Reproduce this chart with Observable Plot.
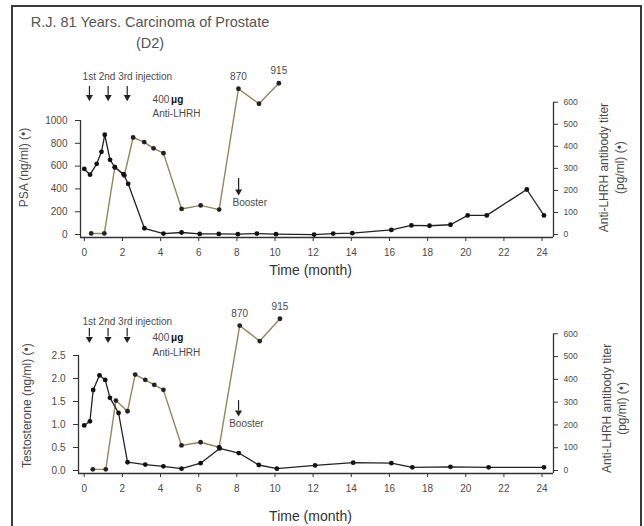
<!DOCTYPE html>
<html>
<head>
<meta charset="utf-8">
<script src="https://cdn.jsdelivr.net/npm/d3@7"></script>
<script src="https://cdn.jsdelivr.net/npm/@observablehq/plot@0.6"></script>
<style>
  html, body { margin: 0; padding: 0; background: #fff; overflow: hidden; }
  body { width: 644px; height: 526px; position: relative; font-family: "Liberation Sans", Arial, sans-serif; }
  #frame { position: absolute; left: 11px; top: 5px; width: 627px; height: 560px; border: 2px solid #3a3a3a; border-bottom: none; }
  #title { position: absolute; left: 18px; top: 12px; width: 264px; text-align: center; font-size: 14.5px; line-height: 21px; color: #555; }
  #p1 { position: absolute; left: 0; top: 55px; }
  #p2 { position: absolute; left: 0; top: 285px; }
  svg { overflow: visible; }
</style>
</head>
<body>
<div id="frame"></div>
<div id="title">R.J. 81 Years. Carcinoma of Prostate<br>(D2)</div>
<div id="p1"></div>
<div id="p2"></div>
<script>
// ---------- data ----------
const xTicks = [0, 2, 4, 6, 8, 10, 12, 14, 16, 18, 20, 22, 24];
const psaTicks = [0, 200, 400, 600, 800, 1000];
const testoTicks = [0, 0.5, 1.0, 1.5, 2.0, 2.5];
const titerTicks = [0, 100, 200, 300, 400, 500, 600];

const psaMonths = [0, 0.3, 0.65, 0.9, 1.07, 1.35, 1.6, 2.05, 2.3, 3.15, 4.15, 5.1, 6.05, 7.05, 8.05, 9.05, 10.05, 12.05, 13.05, 14.05, 16.1, 17.15, 18.1, 19.2, 20.1, 21.1, 23.2, 24.1];
const psaValues = [575, 525, 620, 725, 875, 655, 590, 530, 445, 55, 8, 18, 5, 5, 3, 8, 3, 0, 8, 12, 40, 80, 77, 86, 168, 168, 395, 168];

const titerTopMonths = [0.36, 1.05, 1.6, 2.1, 2.56, 3.14, 3.63, 4.15, 5.1, 6.1, 7.07, 8.08, 9.16, 10.2];
const titerTopValues = [5, 5, 305, 268, 440, 419, 391, 369, 116, 132, 113, 661, 593, 686];
const titerTopLabels = ["", "", "", "", "", "", "", "", "", "", "", "870", "", "915"];

const testoMonths = [0, 0.3, 0.47, 0.8, 1.1, 1.35, 1.8, 2.27, 3.2, 4.15, 5.1, 6.1, 7.1, 8.1, 9.15, 10.1, 12.1, 14.1, 16.1, 17.2, 19.2, 21.2, 24.1];
const testoValues = [0.98, 1.07, 1.75, 2.07, 1.97, 1.58, 1.25, 0.18, 0.13, 0.09, 0.04, 0.16, 0.48, 0.38, 0.12, 0.04, 0.11, 0.17, 0.16, 0.07, 0.08, 0.07, 0.07];

const titerBotMonths = [0.45, 1.13, 1.66, 2.27, 2.67, 3.2, 3.67, 4.15, 5.1, 6.1, 7.07, 8.15, 9.2, 10.26];
const titerBotValues = [5, 5, 307, 260, 421, 398, 376, 354, 110, 124, 102, 636, 568, 666];
const titerBotLabels = ["", "", "", "", "", "", "", "", "", "", "", "870", "", "915"];

const injectionMonths = [0.27, 1.25, 2.25];
const boosterMonth = [8.09];

// ---------- helpers ----------
const FONT = "Liberation Sans, Arial, sans-serif";
const INK = "#222";
const OLIVE = "#8c8a58";
const TXT = "#4a4a4a";

const psa = psaMonths.map((m, i) => ({month: m, value: psaValues[i]}));
const titerTop = titerTopMonths.map((m, i) => ({month: m, value: titerTopValues[i], label: titerTopLabels[i]}));
const testo = testoMonths.map((m, i) => ({month: m, value: testoValues[i]}));
const titerBot = titerBotMonths.map((m, i) => ({month: m, value: titerBotValues[i], label: titerBotLabels[i]}));

function panel(o) {
  const k = o.k;
  return Plot.plot({
    width: 644,
    height: o.height,
    marginLeft: o.marginLeft, marginRight: 91, marginTop: o.marginTop, marginBottom: o.marginBottom,
    x: {domain: o.xDomain, axis: null},
    y: {domain: o.yDomain, axis: null},
    style: {fontFamily: FONT, fontSize: "10px", color: TXT, background: "transparent", overflow: "visible"},
    marks: [
      // axes lines
      Plot.ruleY([o.yDomain[0]], {stroke: "#333", strokeWidth: 1.3}),
      Plot.ruleX([o.xDomain[0]], {y1: o.yDomain[0], y2: o.yDomain[1], stroke: "#333", strokeWidth: 1.3}),
      Plot.ruleX([o.xDomain[1]], {y1: o.yDomain[0], y2: 600 * k, stroke: "#333", strokeWidth: 1.3}),
      Plot.axisX({ticks: xTicks, label: null, tickSize: 4, tickPadding: 7, tickFormat: d => String(d), fontSize: 10, fill: TXT, stroke: "#333"}),
      Plot.axisY({anchor: "left", label: null, ticks: o.leftTicks, tickSize: 5, tickPadding: 8, tickFormat: o.leftFormat, fontSize: 10, fill: TXT, stroke: "#333"}),
      Plot.axisY({anchor: "right", label: null, ticks: titerTicks.map(t => t * k), tickSize: 4, tickPadding: 6, tickFormat: d => String(Math.round(d / k)), fontSize: 8.5, fill: TXT, stroke: "#333"}),
      // titer series
      Plot.line(o.titer, {x: "month", y: d => d.value * k, stroke: OLIVE, strokeWidth: 1.4}),
      Plot.dot(o.titer, {x: "month", y: d => d.value * k, r: 2.4, fill: "#222"}),
      Plot.text(o.titer.filter(d => d.label), {x: "month", y: d => d.value * k, text: "label", dy: -12, fontSize: 10, fill: TXT}),
      // main series
      Plot.line(o.main, {x: "month", y: "value", stroke: INK, strokeWidth: 1.3}),
      Plot.dot(o.main, {x: "month", y: "value", r: 2.4, fill: "#111"}),
      // injection annotations
      Plot.text(["1st 2nd 3rd injection"], {x: -0.09, y: o.ann.injText, text: d => d, textAnchor: "start", fontSize: 10, fill: TXT}),
      Plot.ruleX(injectionMonths, {y1: o.ann.arrTop, y2: o.ann.arrBot, stroke: "#222", strokeWidth: 1.2}),
      Plot.dot(injectionMonths, {x: d => d, y: o.ann.arrHead, symbol: "triangle", r: 2.6, rotate: 180, fill: "#222"}),
      Plot.text(["400"], {x: 3.58, y: o.ann.dose, text: d => d, textAnchor: "start", fontSize: 10, fill: TXT}),
      Plot.text(["μg"], {x: 4.55, y: o.ann.dose, text: d => d, textAnchor: "start", fontSize: 10, fontWeight: "bold", fill: "#111"}),
      Plot.text(["Anti-LHRH"], {x: 3.58, y: o.ann.anti, text: d => d, textAnchor: "start", fontSize: 10, fill: TXT}),
      // booster
      Plot.ruleX(boosterMonth, {y1: o.ann.bTop, y2: o.ann.bBot, stroke: "#222", strokeWidth: 1.2}),
      Plot.dot(boosterMonth, {x: d => d, y: o.ann.bHead, symbol: "triangle", r: 2.6, rotate: 180, fill: "#222"}),
      Plot.text(["Booster"], {x: o.ann.bTextX, y: o.ann.bText, text: d => d, textAnchor: "start", fontSize: 10, fill: TXT}),
      // axis titles
      Plot.text([o.leftLabel], {x: o.ann.leftLabX, y: o.ann.labY, text: d => d, rotate: -90, fontSize: 12, fill: TXT}),
      Plot.text(["Anti-LHRH antibody titer"], {x: o.ann.r1X, y: o.ann.rLabY, text: d => d, rotate: -90, fontSize: 12, fill: TXT}),
      Plot.text(["(pg/ml) (•)"], {x: o.ann.r2X, y: o.ann.rLabY, text: d => d, rotate: -90, fontSize: 12, fill: TXT}),
      Plot.text(["Time (month)"], {x: 11.86, y: o.ann.timeY, text: d => d, fontSize: 14, fill: "#333"})
    ]
  });
}

const k1 = 1160.5 / 600;
document.getElementById("p1").appendChild(panel({
  height: 230, marginLeft: 80, marginTop: 65, marginBottom: 48,
  xDomain: [-0.2, 24.6], yDomain: [-26, 1000], k: k1,
  leftTicks: psaTicks, leftFormat: d => String(d),
  main: psa, titer: titerTop,
  leftLabel: "PSA (ng/ml) (•)",
  ann: {injText: 1385, arrTop: 1298, arrBot: 1215, arrHead: 1205, dose: 1184, anti: 1061,
        bTop: 491, bBot: 385, bHead: 377, bText: 281, bTextX: 7.77,
        leftLabX: -3.14, labY: 587, r1X: 27.23, r2X: 28.12, rLabY: 587, timeY: -316}
}));

const k2 = 2.972 / 600;
document.getElementById("p2").appendChild(panel({
  height: 241, marginLeft: 78, marginTop: 70, marginBottom: 53,
  xDomain: [-0.3, 24.6], yDomain: [-0.065, 2.5], k: k2,
  leftTicks: testoTicks, leftFormat: d3.format(".1f"),
  main: testo, titer: titerBot,
  leftLabel: "Testosterone (ng/ml) (•)",
  ann: {injText: 3.24, arrTop: 3.087, arrBot: 2.9, arrHead: 2.86, dose: 2.89, anti: 2.565,
        bTop: 1.52, bBot: 1.3, bHead: 1.26, bText: 1.02, bTextX: 7.6,
        leftLabX: -2.97, labY: 1.41, r1X: 27.42, r2X: 28.21, rLabY: 1.35, timeY: -1.0}
}));
</script>
</body>
</html>
